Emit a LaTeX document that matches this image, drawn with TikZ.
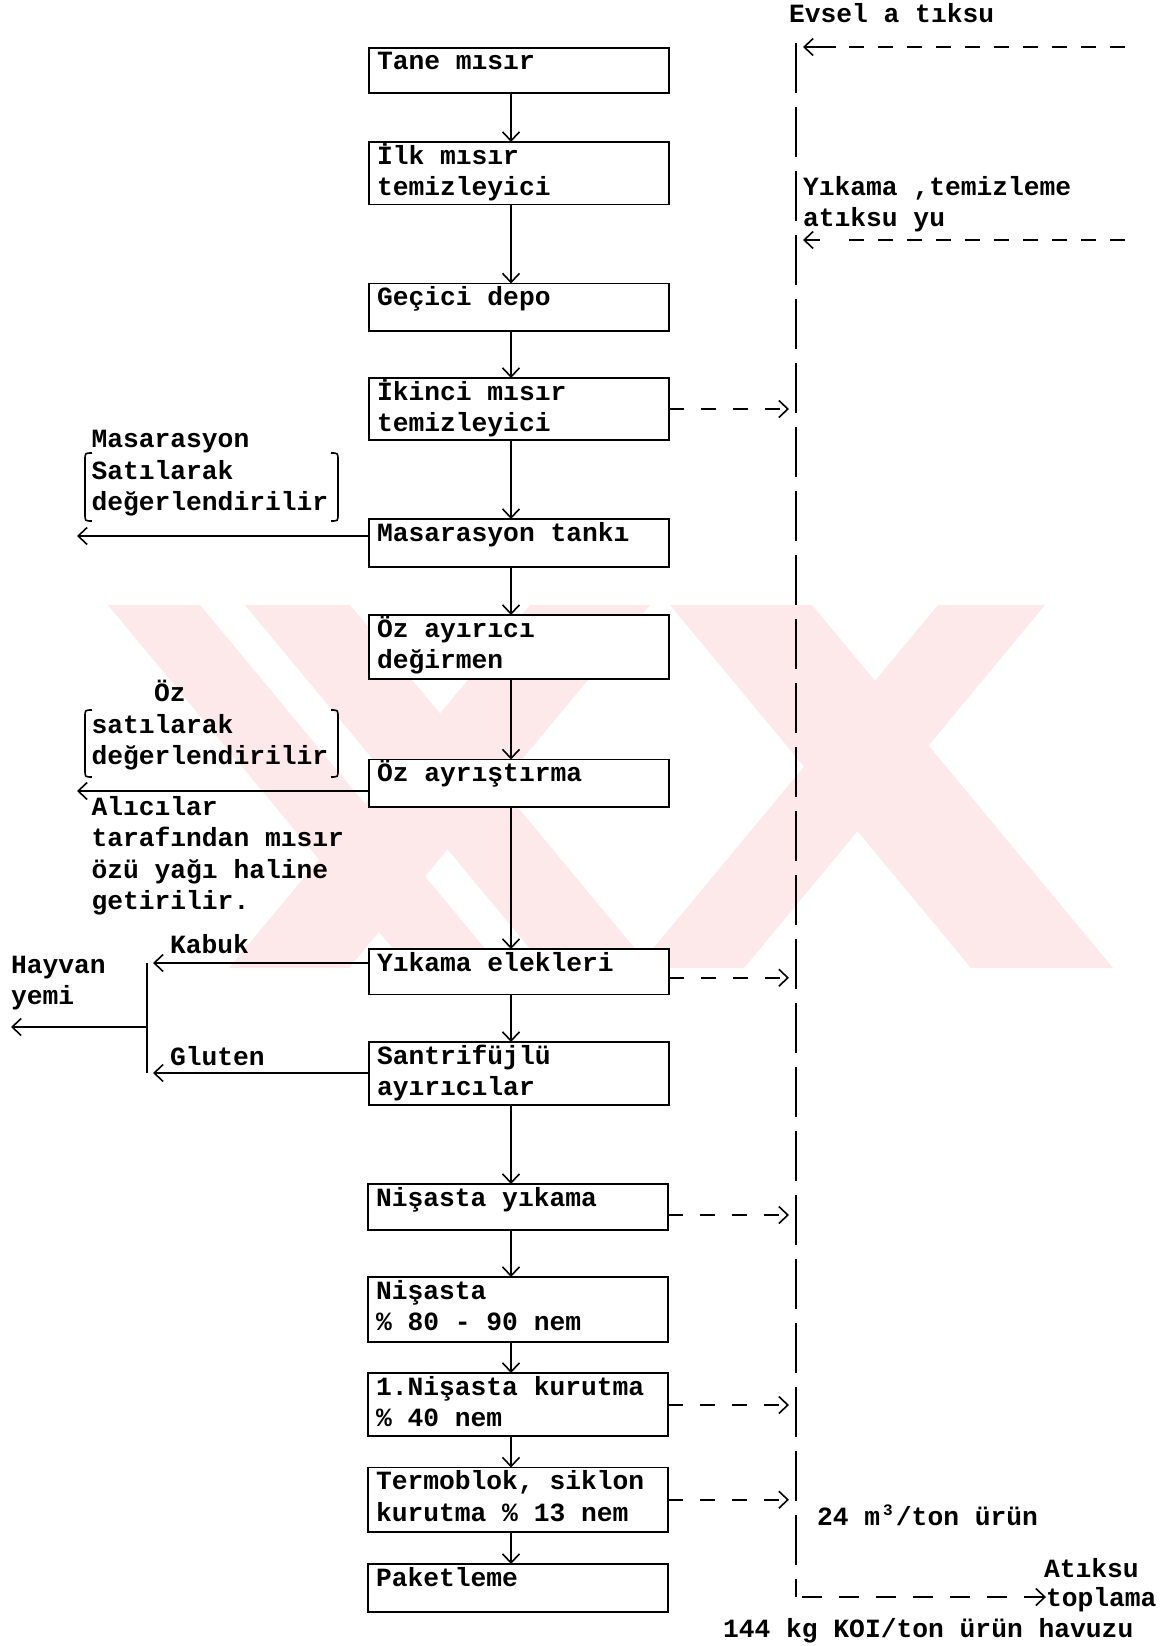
\documentclass[tikz,border=0pt]{standalone}
\usepackage{fontspec}
\newfontfamily\twfont{Liberation Mono}
\newcommand\mytw{\twfont\bfseries\fontsize{26.3pt}{31.5pt}\selectfont}
\usetikzlibrary{arrows.meta,calc}
\definecolor{wmpink}{RGB}{253,233,233}
\newcommand\boxone[5]{%
  \node[box,minimum height=#4pt] (#1) at (#2,#3) {};
  \node[txt] (#1t) at ($(#1.north west)+(8,22)$) {#5};}
\newcommand\boxtwo[6]{%
  \node[box,minimum height=#4pt] (#1) at (#2,#3) {};
  \node[txt] (#1t) at ($(#1.north west)+(8,22)$) {#5};
  \node[txt] (#1u) at ($(#1.north west)+(8,53.5)$) {#6};}
\begin{document}
\begin{tikzpicture}[x=1pt,y=-1pt,
  box/.style={draw,line width=1.8pt,fill=white,anchor=north west,inner sep=0pt,outer sep=0pt,minimum width=300pt},
  txt/.style={anchor=base west,inner sep=0pt,outer sep=0pt,font=\mytw},
  tip/.style={-{Straight Barb[length=9pt,width=17pt]}},
  arr/.style={line width=1.6pt,tip},
  ln/.style={line width=1.6pt},
  dsh/.style={line width=1.6pt,dash pattern=on 15pt off 17pt},
  tdsh/.style={line width=1.6pt,dash pattern=on 15pt off 14pt},
  vdsh/.style={line width=1.6pt,dash pattern=on 50pt off 14pt},
  bdsh/.style={line width=1.6pt,dash pattern=on 20pt off 17pt},
  wm/.style={fill=wmpink,draw=none}]
\useasboundingbox (0,0) rectangle (1163,1646);
\fill[white] (0,0) rectangle (1163,1646);
% watermark
\fill[wm] (108,605) -- (200,605) -- (501,968) -- (409,968) -- cycle;
\fill[wm] (245,605) -- (350,605) -- (651,968) -- (546,968) -- cycle;
\fill[wm] (530,605) -- (650,605) -- (349,968) -- (229,968) -- cycle;
\fill[wm] (670,605) -- (812,605) -- (1113,968) -- (971,968) -- cycle;
\fill[wm] (938,605) -- (1045,605) -- (744,968) -- (637,968) -- cycle;
% process boxes
\boxone{b1}{369}{48}{45}{Tane mısır}
\boxtwo{b2}{369}{142}{62.5}{İlk mısır}{temizleyici}
\boxone{b3}{369}{283.5}{47.5}{Geçici depo}
\boxtwo{b4}{369}{378}{62}{İkinci mısır}{temizleyici}
\boxone{b5}{369}{519}{48}{Masarasyon tankı}
\boxtwo{b6}{369}{615}{64}{Öz ayırıcı}{değirmen}
\boxone{b7}{369}{759.5}{47.5}{Öz ayrıştırma}
\boxone{b8}{369}{949}{45.5}{Yıkama elekleri}
\boxtwo{b9}{369}{1042}{63}{Santrifüjlü}{ayırıcılar}
\boxone{b10}{368}{1184}{46}{Nişasta yıkama}
\boxtwo{b11}{368}{1277}{65}{Nişasta}{\% 80 - 90 nem}
\boxtwo{b12}{368}{1373}{63}{1.Nişasta kurutma}{\% 40 nem}
\boxtwo{b13}{368}{1467.5}{64.5}{Termoblok, siklon}{kurutma \% 13 nem}
\boxone{b14}{368}{1564}{48}{Paketleme}
% main flow
\coordinate (ax) at (511,0);
\foreach \a/\b in {b1/b2,b2/b3,b3/b4,b4/b5,b5/b6,b6/b7,b7/b8,b8/b9,b9/b10,b10/b11,b11/b12,b12/b13,b13/b14}
  \draw[arr] (ax |- \a.south) -- (ax |- \b.north);
% waste water collector
\coordinate (vx) at (789,0);
\coordinate (vt) at (796,43);
\coordinate (vb) at (796,1597);
\draw[vdsh] (vt) -- (vb);
\path ($(b8.east)+(0,6)$) coordinate (b8e);
\path ($(b10.east)+(0,8)$) coordinate (b10e);
\path ($(b12.east)+(0,0.5)$) coordinate (b12e);
\foreach \s in {b4.east,b8e,b10e,b12e,b13.east}
  \draw[dsh,tip] (\s) -- (vx |- \s);
% top inputs
\node[txt] (evs) at (789,23) {Evsel a tıksu};
\coordinate (ea) at (1125,47); \coordinate (eam) at (836,47); \coordinate (eat) at (803,47);
\draw[tdsh] (ea) -- (eam); \draw[arr] (eam) -- (eat);
\node[txt] (yk1) at (803,195) {Yıkama ,temizleme};
\node[txt] (yk2) at (803,226.5) {atıksu yu};
\coordinate (eb) at (1125,240); \coordinate (ebm) at (820,240); \coordinate (ebt) at (803,240);
\draw[tdsh] (eb) -- (836,240); \draw[arr] (ebm) -- (ebt);
% bottom
\node[txt] (q24) at (817,1525) {24 m\makebox[15.8pt][c]{\raisebox{10pt}{\fontsize{16pt}{16pt}\selectfont 3}}/ton ürün};
\node[txt] (atk) at (1044,1577) {Atıksu};
\node[txt] (topl) at (1046,1606) {toplama};
\node[txt] (koi) at (723,1637) {144 kg KOI/ton ürün havuzu};
\draw[bdsh,tip] ($(vb)+(6,0)$) -- (vb -| topl.west);
% left outputs
\node[txt] (m1) at (91.5,447.5) {Masarasyon};
\node[txt] (m2) at (91.5,479) {Satılarak};
\node[txt] (m3) at (91.5,510.5) {değerlendirilir};
\draw[ln] (92,453) .. controls (85,453) .. (85,460) -- (85,514) .. controls (85,521) .. (92,521);
\draw[ln] (331,453) .. controls (338,453) .. (338,460) -- (338,514) .. controls (338,521) .. (331,521);
\coordinate (l1) at (77,536);
\draw[arr] (b5.west |- l1) -- (l1);
\node[txt] (o1) at (154,701) {Öz};
\node[txt] (o2) at (91.5,733) {satılarak};
\node[txt] (o3) at (91.5,764.5) {değerlendirilir};
\draw[ln] (92,710) .. controls (85,710) .. (85,717) -- (85,770) .. controls (85,777) .. (92,777);
\draw[ln] (331,710) .. controls (338,710) .. (338,717) -- (338,770) .. controls (338,777) .. (331,777);
\coordinate (l2) at (77,791);
\draw[arr] (b7.west |- l2) -- (l2);
\node[txt] (a1) at (91.5,815) {Alıcılar};
\node[txt] (a2) at (91.5,846.5) {tarafından mısır};
\node[txt] (a3) at (91.5,878) {özü yağı haline};
\node[txt] (a4) at (91.5,909.5) {getirilir.};
\node[txt] (kb) at (170,953) {Kabuk};
\node[txt] (gl) at (170,1065) {Gluten};
\node[txt] (hv1) at (11,973) {Hayvan};
\node[txt] (hv2) at (11,1004) {yemi};
\coordinate (kab) at (153,963); \coordinate (glu) at (153,1073);
\draw[arr] (b8.west |- kab) -- (kab);
\draw[arr] (b9.west |- glu) -- (glu);
\coordinate (jt) at (147,963); \coordinate (jb) at (147,1073);
\draw[ln] (jt) -- (jb);
\coordinate (jm) at (147,1027); \coordinate (hy) at (11,1027);
\draw[arr] (jm) -- (hy);
\end{tikzpicture}
\end{document}
